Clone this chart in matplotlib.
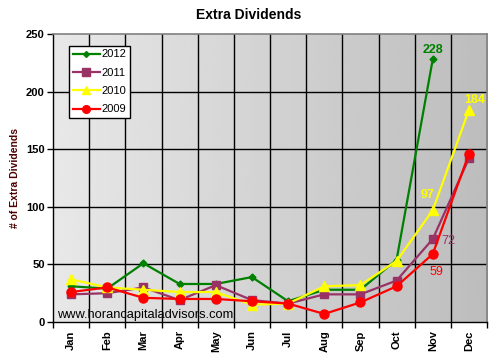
import matplotlib
matplotlib.use("Agg")
import matplotlib.pyplot as plt
import numpy as np

months = ["Jan", "Feb", "Mar", "Apr", "May", "Jun", "Jul", "Aug", "Sep", "Oct", "Nov", "Dec"]
s2012 = [31, 29, 51, 33, 33, 39, 18, 28, 28, 54, 228, None]
s2011 = [24, 25, 30, 19, 32, 19, 16, 24, 24, 36, 72, 142]
s2010 = [37, 30, 28, 26, 26, 15, 16, 31, 32, 53, 97, 184]
s2009 = [26, 30, 21, 20, 20, 18, 16, 7, 17, 31, 59, 146]
yticks = [0, 50, 100, 150, 200, 250]

plt.rcParams['font.family'] = ['Liberation Sans', 'DejaVu Sans']

fig = plt.figure(figsize=(4.98, 3.58), dpi=100)
fig.patch.set_facecolor('white')
ax = fig.add_axes([53/498, 1-322/358, (487-53)/498, (322-34)/358])

x = np.arange(len(months))
ax.set_xlim(-0.5, 11.5)
ax.set_ylim(0, 250)

# gradient background
grad = np.linspace(0.91, 0.74, 256).reshape(1, -1)
ax.imshow(grad, cmap='gray', vmin=0, vmax=1, aspect='auto',
          extent=[-0.5, 11.5, 0, 250], zorder=0, interpolation='bicubic')

# grid
for b in np.arange(0.5, 11.5, 1):
    ax.axvline(b, color='black', lw=1.0, zorder=1)
for yt in yticks[1:-1]:
    ax.axhline(yt, color='black', lw=1.0, zorder=1)

def arr(s):
    return np.array([np.nan if v is None else v for v in s], dtype=float)

l1, = ax.plot(x, arr(s2012), color='#008000', lw=1.6, marker='D', ms=3.5, label='2012', zorder=3)
l2, = ax.plot(x, arr(s2011), color='#993366', lw=1.6, marker='s', ms=6, label='2011', zorder=4)
l3, = ax.plot(x, arr(s2010), color='#ffff00', lw=1.6, marker='^', ms=7, label='2010', zorder=5)
l4, = ax.plot(x, arr(s2009), color='#ff0000', lw=1.6, marker='o', ms=6.5, label='2009', zorder=6)

# data labels
ax.annotate(str(s2012[10]), (10, s2012[10]), xytext=(0, 7), textcoords='offset points',
            ha='center', va='center', color='#008000', fontsize=9, fontweight='bold', zorder=7)
ax.annotate(str(s2010[11]), (11, s2010[11]), xytext=(4.5, 7.5), textcoords='offset points',
            ha='center', va='center', color='#ffff00', fontsize=9, fontweight='bold', zorder=7)
ax.annotate(str(s2010[10]), (10, s2010[10]), xytext=(-3.5, 11), textcoords='offset points',
            ha='center', va='center', color='#ffff00', fontsize=9, fontweight='bold', zorder=7)
ax.annotate(str(s2011[10]), (10, s2011[10]), xytext=(11.5, -1.5), textcoords='offset points',
            ha='center', va='center', color='#993366', fontsize=9, zorder=7)
ax.annotate(str(s2009[10]), (10, s2009[10]), xytext=(2.5, -13), textcoords='offset points',
            ha='center', va='center', color='#ff0000', fontsize=9, zorder=7)

# watermark
ax.text(-0.38, 6.0, "www.horancapitaladvisors.com", fontsize=9.3, color='black',
        ha='left', va='center', zorder=8)

# ticks
ax.set_yticks(yticks)
ax.set_yticklabels([str(t) for t in yticks], fontsize=8, fontweight='bold')
ax.set_xticks(np.arange(-0.5, 12, 1))
ax.set_xticklabels([])
ax.set_xticks(x, minor=True)
ax.set_xticklabels(months, minor=True, rotation=90, fontsize=8, fontweight='bold')
ax.tick_params(axis='x', which='major', direction='out', length=4, width=1)
ax.tick_params(axis='x', which='minor', length=0, pad=6)
ax.tick_params(axis='y', direction='out', length=4, width=1, pad=2)

for side in ['top', 'right']:
    ax.spines[side].set_color('#808080')
    ax.spines[side].set_linewidth(1.2)
for side in ['left', 'bottom']:
    ax.spines[side].set_color('black')
    ax.spines[side].set_linewidth(1.0)

ax.set_ylabel("# of Extra Dividends", fontsize=7.5, fontweight='bold', color='#4d0000', labelpad=4)
fig.text(0.5, 1-15/358, "Extra Dividends", ha='center', va='center', fontsize=10, fontweight='bold')

leg = ax.legend(handles=[l1, l2, l3, l4], loc='upper left', bbox_to_anchor=(0.037, 0.96),
                fontsize=8, frameon=True, fancybox=False, edgecolor='black',
                framealpha=1, handlelength=2.4, handletextpad=0.15, borderpad=0.35,
                labelspacing=0.75, borderaxespad=0, markerscale=0.85)
leg.get_frame().set_linewidth(1.0)
leg.set_zorder(10)

fig.savefig("out.png", dpi=100)
